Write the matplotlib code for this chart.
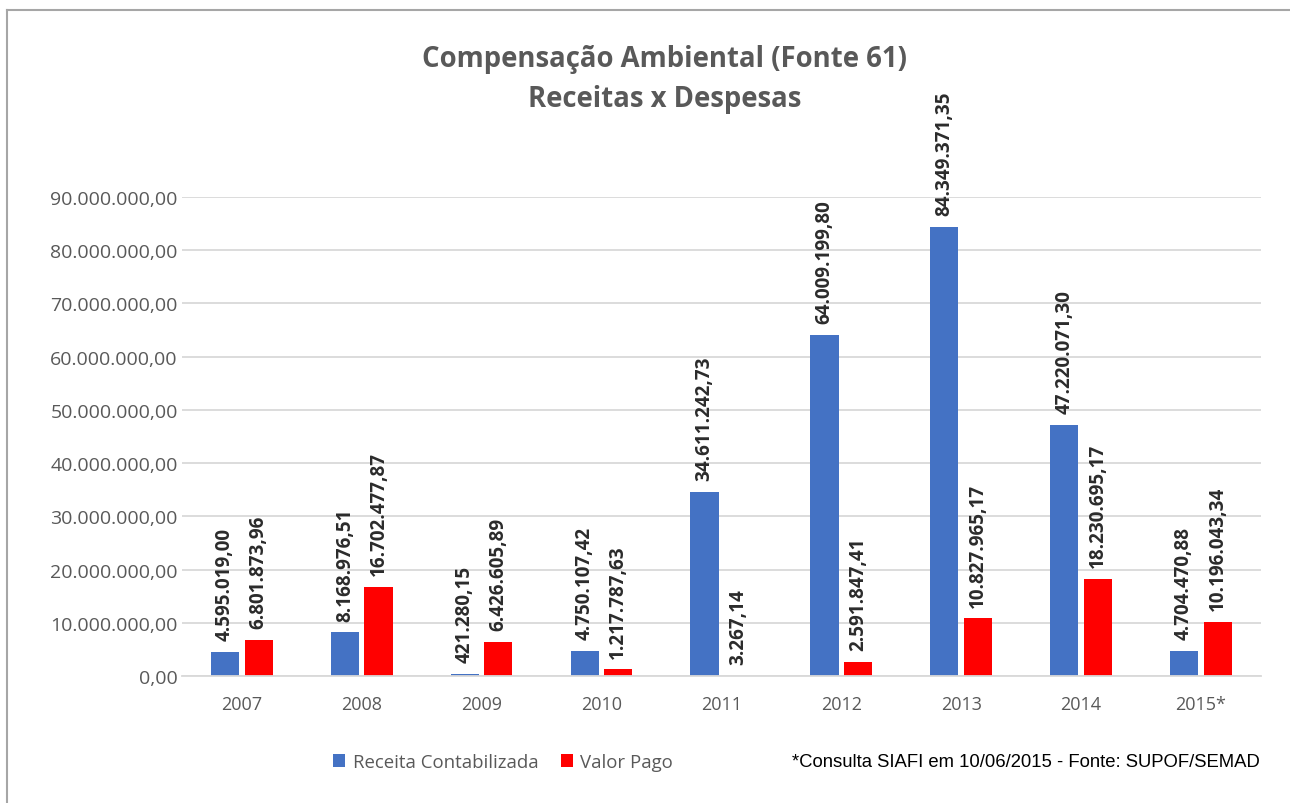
import matplotlib
matplotlib.use("Agg")
from matplotlib import pyplot as plt
import numpy as np

# Dados do gráfico
anos = ["2007", "2008", "2009", "2010", "2011", "2012", "2013", "2014", "2015*"]
receita = [4595019.00, 8168976.51, 421280.15, 4750107.42, 34611242.73,
           64009199.80, 84349371.35, 47220071.30, 4704470.88]
pago = [6801873.96, 16702477.87, 6426605.89, 1217787.63, 3267.14,
        2591847.41, 10827965.17, 18230695.17, 10196043.34]


def fmt_br(v):
    s = f"{v:,.2f}"
    return s.replace(",", "#").replace(".", ",").replace("#", ".")


plt.rcParams['font.family'] = ['Open Sans', 'DejaVu Sans']
cinza = '#595959'

fig = plt.figure(figsize=(12.9, 8.04), dpi=100)
ax = fig.add_axes([0.141, 0.158, 0.8364, 0.5958])

x = np.arange(len(anos))
w = 0.235
off = 0.14
b1 = ax.bar(x - off, receita, w, color='#4472C4', label='Receita Contabilizada')
b2 = ax.bar(x + off, pago, w, color='#FF0000', label='Valor Pago')

for bars, vals in [(b1, receita), (b2, pago)]:
    for b, v in zip(bars, vals):
        ax.annotate(fmt_br(v), (b.get_x() + b.get_width() / 2, b.get_height()),
                    xytext=(0, 8.5), textcoords='offset points', rotation=90,
                    ha='center', va='bottom', fontsize=13.6, fontweight='bold',
                    color='#2b2b2b', annotation_clip=False)

ax.set_xlim(-0.5, len(anos) - 0.5)
ax.set_ylim(0, 90e6)
ax.set_yticks(np.arange(0, 90e6 + 1, 10e6))
ax.set_yticklabels([fmt_br(v) for v in np.arange(0, 90e6 + 1, 10e6)])
ax.set_xticks(x)
ax.set_xticklabels(anos)
ax.tick_params(length=0, labelcolor=cinza)
ax.tick_params(axis='y', pad=3, labelsize=14)
ax.tick_params(axis='x', pad=14, labelsize=13)
ax.grid(axis='y', color='#D9D9D9', linewidth=1.3)
ax.set_axisbelow(True)
for s in ['top', 'right', 'left']:
    ax.spines[s].set_visible(False)
ax.spines['bottom'].set_color('#D9D9D9')
ax.spines['bottom'].set_linewidth(1.3)

fig.text(0.5155, 0.926, 'Compensação Ambiental (Fonte 61)', ha='center', va='center',
         fontsize=19.8, fontweight='bold', color=cinza)
fig.text(0.5155, 0.876, 'Receitas x Despesas', ha='center', va='center',
         fontsize=19.8, fontweight='bold', color=cinza)

fig.legend(loc='center', bbox_to_anchor=(0.39, 0.051), ncol=2, frameon=False,
           fontsize=13.4, labelcolor=cinza, handlelength=0.65, handleheight=0.7,
           handletextpad=0.4, columnspacing=1.2)

fig.text(0.977, 0.051, '*Consulta SIAFI em 10/06/2015 - Fonte: SUPOF/SEMAD',
         ha='right', va='center', fontsize=13.3, family='Liberation Sans', color='black')

# moldura
fig.add_artist(plt.Line2D([7 / 1290, 1], [1 - 11 / 804, 1 - 11 / 804], color='#A6A6A6', lw=1.5))
fig.add_artist(plt.Line2D([7 / 1290, 7 / 1290], [0, 1 - 11 / 804], color='#A6A6A6', lw=1.5))

plt.savefig('out.png', dpi=100)
